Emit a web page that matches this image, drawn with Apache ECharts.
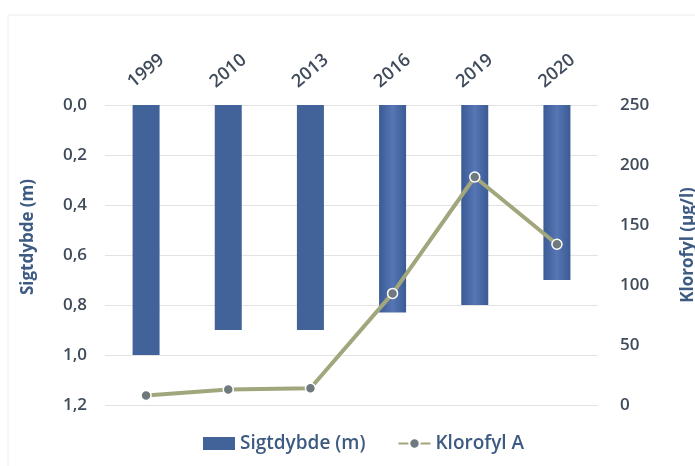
<!DOCTYPE html>
<html>
<head>
<meta charset="utf-8">
<script src="https://cdn.jsdelivr.net/npm/echarts@6/dist/echarts.min.js"></script>
<style>
  html, body { margin: 0; padding: 0; background: #fff; }
  #chart { width: 695px; height: 466px; }
</style>
</head>
<body>
<div id="chart"></div>
<script>
// Sampling years
const years = ['1999', '2010', '2013', '2016', '2019', '2020'];
// Secchi depth (m)
const sigtdybde = [1.0, 0.9, 0.9, 0.83, 0.8, 0.7];
// Chlorophyll a (µg/l)
const klorofyl = [8, 13, 14, 93, 190, 134];
// Axis tick ranges
const depthTicks = { min: 0, max: 1.2, step: 0.2 };
const chlTicks = { min: 0, max: 250, step: 50 };

const FONT = 'Open Sans';
const dark = '#3f4b5b';
const blueText = '#3c5a82';

const flatBlue = '#41639a';
const shadedBlue = {
  type: 'linear', x: 0, y: 0, x2: 1, y2: 0,
  colorStops: [
    { offset: 0, color: '#3a5b94' },
    { offset: 0.5, color: '#5676b4' },
    { offset: 1, color: '#3a5b94' }
  ]
};

const chart = echarts.init(document.getElementById('chart'));
chart.setOption({
  backgroundColor: '#fff',
  animation: false,
  textStyle: { fontFamily: FONT },
  graphic: [{
    type: 'rect',
    shape: { x: 8, y: 15, width: 700, height: 470 },
    style: { fill: 'none', stroke: '#ececec', lineWidth: 1 },
    silent: true
  }],
  grid: { left: 105, right: 97, top: 105, bottom: 61, outerBoundsMode: 'none' },
  legend: {
    bottom: 8,
    left: 198,
    itemGap: 32,
    itemWidth: 32,
    itemHeight: 13,
    textStyle: { color: blueText, fontSize: 19, fontFamily: FONT, fontWeight: 600 },
    data: [
      { name: 'Sigtdybde (m)', icon: 'rect' },
      { name: 'Klorofyl A' }
    ]
  },
  xAxis: {
    type: 'category',
    data: years,
    position: 'top',
    axisLine: { show: false },
    axisTick: { show: false },
    axisLabel: {
      rotate: 40,
      align: 'center',
      verticalAlign: 'middle',
      margin: 34,
      color: dark,
      fontSize: 18,
      fontFamily: FONT,
      fontWeight: 600
    }
  },
  yAxis: [{
    type: 'value',
    inverse: true,
    min: depthTicks.min,
    max: depthTicks.max,
    interval: depthTicks.step,
    name: 'Sigtdybde (m)',
    nameLocation: 'middle',
    nameRotate: 90,
    nameGap: 68,
    nameTextStyle: {
      color: blueText, fontSize: 17, fontFamily: FONT, fontWeight: 700,
      padding: [0, 0, 0, 36]
    },
    axisLine: { show: false },
    axisTick: { show: false },
    axisLabel: {
      margin: 18,
      color: dark,
      fontSize: 17,
      fontFamily: FONT,
      fontWeight: 600,
      formatter: v => v.toFixed(1).replace('.', ',')
    },
    splitLine: { lineStyle: { color: '#e3e3e3', width: 1 } }
  }, {
    type: 'value',
    min: chlTicks.min,
    max: chlTicks.max,
    interval: chlTicks.step,
    name: 'Klorofyl (µg/l)',
    nameLocation: 'middle',
    nameRotate: 90,
    nameGap: 82,
    nameTextStyle: {
      color: blueText, fontSize: 17, fontFamily: FONT, fontWeight: 700,
      padding: [0, 0, 0, 20]
    },
    axisLine: { show: false },
    axisTick: { show: false },
    axisLabel: {
      margin: 22,
      color: dark,
      fontSize: 17,
      fontFamily: FONT,
      fontWeight: 600
    },
    splitLine: { show: false }
  }],
  series: [{
    name: 'Sigtdybde (m)',
    type: 'bar',
    yAxisIndex: 0,
    barWidth: 27,
    itemStyle: { color: flatBlue },
    data: sigtdybde.map((v, i) => ({
      value: v,
      itemStyle: { color: i >= 3 ? shadedBlue : flatBlue }
    }))
  }, {
    name: 'Klorofyl A',
    type: 'line',
    yAxisIndex: 1,
    data: klorofyl,
    symbol: 'circle',
    symbolSize: 10,
    lineStyle: { color: '#a2a67c', width: 4 },
    itemStyle: { color: '#707a7e', borderColor: '#ffffff', borderWidth: 1.5 },
    z: 5
  }]
});
</script>
</body>
</html>
